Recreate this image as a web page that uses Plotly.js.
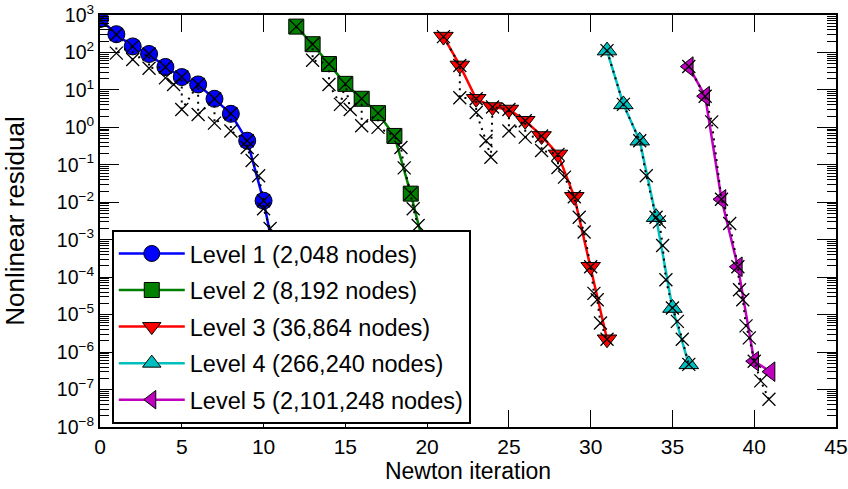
<!DOCTYPE html>
<html>
<head>
<meta charset="utf-8">
<script src="https://cdn.plot.ly/plotly-3.0.1.min.js"></script>
<style>html,body{margin:0;padding:0;background:#fff;}#chart{width:848px;height:489px;}</style>
</head>
<body>
<div id="chart"></div>
<script>
// ---- Data ----
const levelNames = [
  "Level 1 (2,048 nodes)",
  "Level 2 (8,192 nodes)",
  "Level 3 (36,864 nodes)",
  "Level 4 (266,240 nodes)",
  "Level 5 (2,101,248 nodes)"
];

// Main series (coloured markers + solid line)
const l1X = [0, 1, 2, 3, 4, 5, 6, 7, 8, 9, 10, 11];
const l1Y = [780, 307, 145, 91, 41, 22, 14, 5.8, 2.3, 0.44, 0.011, 7e-5];
const l2X = [12, 13, 14, 15, 16, 17, 18, 19, 20];
const l2Y = [490, 166, 49, 14.5, 5.8, 2.4, 0.59, 0.017, 3e-4];
const l3X = [21, 22, 23, 24, 25, 26, 27, 28, 29, 30, 31];
const l3Y = [265, 45, 5.8, 3.5, 3.0, 1.5, 0.59, 0.19, 0.014, 1.9e-4, 2.2e-6];
const l4X = [31, 32, 33, 34, 35, 36];
const l4Y = [112, 4.1, 0.44, 4e-3, 1.5e-5, 4.7e-7];
const l5X = [36, 37, 38, 39, 40, 41];
const l5Y = [42, 6.8, 0.012, 1.9e-4, 5.7e-7, 3e-7];

// Comparison series (black x markers + dotted line)
const c1X = [0, 1, 1, 2, 2, 3, 3, 4, 4, 4.5, 5, 5, 6, 6, 7, 7, 8, 8, 9, 9, 9.3, 9.7, 10, 10, 10.4, 10.8];
const c1Y = [740, 300, 96, 145, 65, 91, 38, 41, 21, 14, 22, 3.0, 14, 2.2, 5.8, 1.3, 2.3, 0.8, 0.44, 0.29, 0.13, 0.051, 0.011, 6.7e-3, 2e-3, 1e-4];
const c2X = [12, 13, 13, 14, 14, 14.7, 15, 15.3, 16, 16, 17, 17, 18, 18.4, 18.6, 19, 19.15, 19.45, 19.8];
const c2Y = [490, 166, 62, 49, 14, 4.1, 14.5, 3.0, 5.8, 1.1, 2.4, 1.0, 0.59, 0.29, 0.083, 0.017, 6.7e-3, 2.4e-3, 2e-4];
const c3X = [21, 22, 22, 23, 23, 23.6, 23.9, 24, 25, 25, 26, 26, 27, 27, 28, 28, 28.4, 29, 29.3, 29.6, 30, 30.2, 30.4, 30.6, 31];
const c3Y = [265, 45, 6.2, 5.8, 2.5, 0.44, 0.16, 3.5, 3.0, 0.8, 1.5, 0.55, 0.59, 0.24, 0.19, 0.085, 0.047, 0.014, 4e-3, 1.6e-3, 1.9e-4, 3.7e-5, 2.5e-5, 6e-6, 2.2e-6];
const c4X = [31, 32, 33, 33.4, 34, 34.2, 34.4, 34.6, 35, 35.3, 35.6, 36];
const c4Y = [112, 4.1, 0.44, 0.051, 4e-3, 3e-3, 7e-4, 8.5e-5, 1.5e-5, 6.6e-6, 2.2e-6, 4.7e-7];
const c5X = [36, 37, 37.4, 38, 38.5, 39, 39.1, 39.3, 39.5, 39.7, 40, 40.4, 40.9];
const c5Y = [42, 6.8, 1.4, 0.012, 2.7e-3, 1.9e-4, 4.6e-5, 2.5e-5, 5e-6, 2.4e-6, 5.7e-7, 1.7e-7, 5.5e-8];

// Tick labels
const xTickVals = [0, 5, 10, 15, 20, 25, 30, 35, 40, 45];
const yTickVals = [1e3, 1e2, 1e1, 1e0, 1e-1, 1e-2, 1e-3, 1e-4, 1e-5, 1e-6, 1e-7, 1e-8];
const yTickText = ["10<sup>3</sup>", "10<sup>2</sup>", "10<sup>1</sup>", "10<sup>0</sup>",
  "10<sup>\u22121</sup>", "10<sup>\u22122</sup>", "10<sup>\u22123</sup>", "10<sup>\u22124</sup>",
  "10<sup>\u22125</sup>", "10<sup>\u22126</sup>", "10<sup>\u22127</sup>", "10<sup>\u22128</sup>"];

// ---- Styles ----
const mains = [
  {x: l1X, y: l1Y, color: "#0000ff", symbol: "circle", size: 17},
  {x: l2X, y: l2Y, color: "#008000", symbol: "square", size: 15},
  {x: l3X, y: l3Y, color: "#ff0000", symbol: "triangle-down", size: 17},
  {x: l4X, y: l4Y, color: "#00bfbf", symbol: "triangle-up", size: 17},
  {x: l5X, y: l5Y, color: "#bf00bf", symbol: "triangle-left", size: 17}
];
const comps = [[c1X, c1Y], [c2X, c2Y], [c3X, c3Y], [c4X, c4Y], [c5X, c5Y]];

const traces = [];
mains.forEach((m, i) => {
  traces.push({
    type: "scatter", mode: "lines+markers", x: m.x, y: m.y, name: levelNames[i],
    legendgroup: "g" + i,
    line: {color: m.color, width: 2.5},
    marker: {symbol: m.symbol, size: m.size, color: m.color, line: {color: "#000", width: 1}}
  });
  traces.push({
    type: "scatter", mode: "lines+markers", x: comps[i][0], y: comps[i][1],
    showlegend: false, legendgroup: "g" + i, hoverinfo: "skip",
    line: {color: "#000", width: 2, dash: "2px,5px"},
    marker: {symbol: "x-thin-open", size: 13, color: "#000", line: {color: "#000", width: 1.3}}
  });
});

const fontFam = "Liberation Sans, Arial, sans-serif";
const layout = {
  width: 848, height: 489,
  margin: {l: 100, r: 12, t: 15, b: 62},
  paper_bgcolor: "#fff", plot_bgcolor: "#fff",
  font: {family: fontFam, size: 20, color: "#000"},
  showlegend: true,
  legend: {
    x: 0.016, y: 0.008, xanchor: "left", yanchor: "bottom",
    bordercolor: "#000", borderwidth: 2, bgcolor: "#fff",
    font: {family: fontFam, size: 23.5, color: "#000"},
    tracegroupgap: 3, itemwidth: 66
  },
  xaxis: {
    range: [0, 45], tickvals: xTickVals, ticks: "inside", ticklen: 17, tickwidth: 1,
    tickcolor: "#000", showline: true, linewidth: 2, linecolor: "#000", mirror: "ticks",
    showgrid: false, zeroline: false, tickfont: {size: 21}, ticklabeloverflow: "allow",
    title: {text: "Newton iteration", font: {size: 23}, standoff: 4}
  },
  yaxis: {
    type: "log", range: [-8, 3], tickvals: yTickVals, ticktext: yTickText,
    ticks: "inside", ticklen: 19, tickwidth: 1, tickcolor: "#000",
    showline: true, linewidth: 2, linecolor: "#000", mirror: "ticks",
    showgrid: false, zeroline: false, tickfont: {size: 19.5}, ticklabeloverflow: "allow",
    minor: {ticks: "inside", ticklen: 9, tickwidth: 1, tickcolor: "#000", dtick: "D1", showgrid: false},
    title: {text: "Nonlinear residual", font: {size: 26}, standoff: 25}
  }
};

Plotly.newPlot("chart", traces, layout, {displayModeBar: false, staticPlot: true});
</script>
</body>
</html>
